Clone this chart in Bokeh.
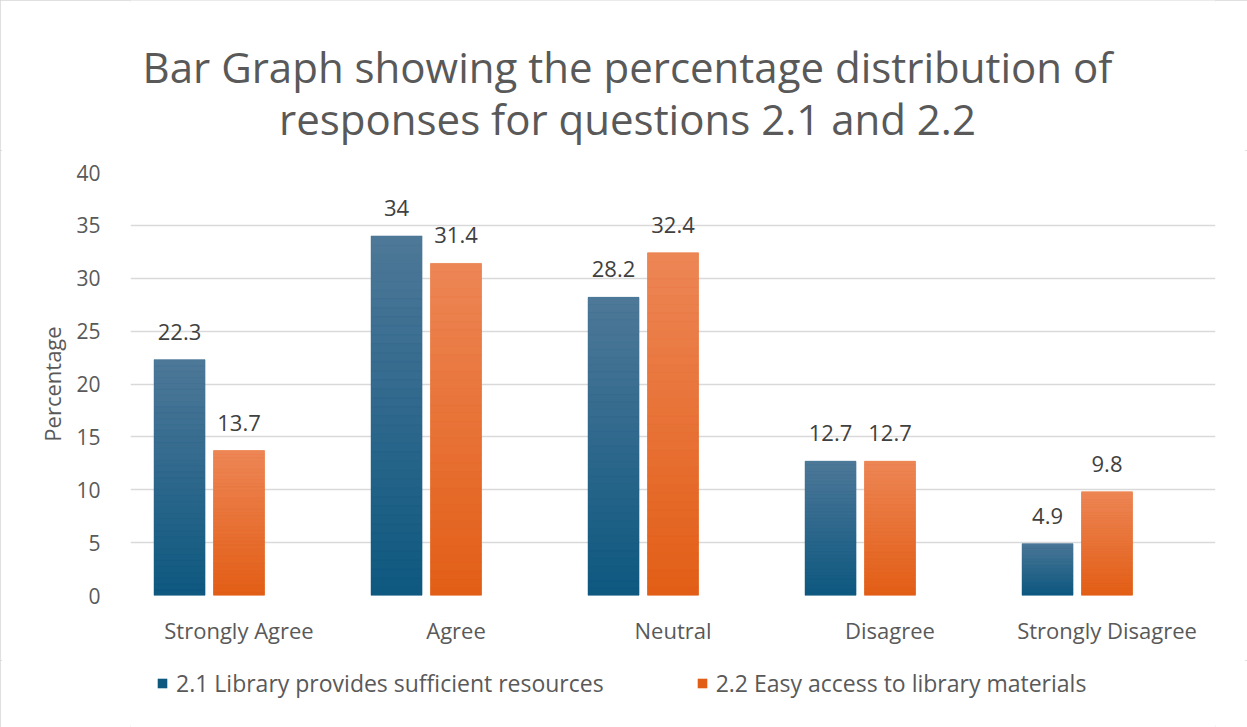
from bokeh.plotting import figure
from bokeh.layouts import column
from bokeh.models import (ColumnDataSource, FactorRange, Legend, LegendItem,
                          FixedTicker, LabelSet, Label, Range1d)
from bokeh.core.properties import value
from bokeh.transform import dodge
from bokeh.embed import file_html
from bokeh.resources import INLINE

# ---- data ----
categories = ["Strongly Agree", "Agree", "Neutral", "Disagree", "Strongly Disagree"]
lib_resources = [22.3, 34, 28.2, 12.7, 4.9]      # 2.1 Library provides sufficient resources
easy_access = [13.7, 31.4, 32.4, 12.7, 9.8]      # 2.2 Easy access to library materials
series_names = ["2.1 Library provides sufficient resources",
                "2.2 Easy access to library materials"]
y_ticks = [0, 5, 10, 15, 20, 25, 30, 35, 40]
title_lines = ["Bar Graph showing the percentage distribution of",
               "responses for questions 2.1 and 2.2"]

FONT = "Open Sans"
TXT = "#595959"
W = 1247
ML, MR = 130, 32          # left / right margins shared by all strips
TOP_H, LEG_H = 150, 67
MAIN_H = 727 - TOP_H - LEG_H

# gradient colours (bottom -> top)
blue_bottom, blue_top = (14, 88, 128), (78, 120, 152)
orange_bottom, orange_top = (226, 94, 22), (237, 134, 86)


def hexc(c):
    return "#%02x%02x%02x" % tuple(int(round(v)) for v in c)


def gradient_source(values, c0, c1, n=40):
    xs, bots, tops, cols = [], [], [], []
    for cat, v in zip(categories, values):
        for k in range(n):
            t = (k + 0.5) / n
            xs.append(cat)
            bots.append(v * k / n)
            tops.append(v * (k + 1) / n)
            cols.append(hexc([a + (b - a) * t for a, b in zip(c0, c1)]))
    return ColumnDataSource(dict(x=xs, bottom=bots, top=tops, color=cols))


def strip(height, x_range, y_range):
    f = figure(width=W, height=height, output_backend="svg", toolbar_location=None,
               x_range=x_range, y_range=y_range, x_axis_type=None, y_axis_type=None,
               min_border_left=ML, min_border_right=MR, min_border_top=0,
               min_border_bottom=0)
    f.grid.visible = False
    f.outline_line_color = None
    f.border_fill_color = "white"
    return f


# ---- title strip (data units == pixels) ----
p0 = strip(TOP_H, Range1d(ML, W - MR), Range1d(TOP_H, 0))
for txt, yb in zip(title_lines, [66, 118]):
    p0.add_layout(Label(x=627, y=yb, text=txt, text_align="center",
                        text_baseline="alphabetic", text_font=FONT,
                        text_font_size="42px", text_color=TXT))

# ---- main chart ----
p = figure(x_range=FactorRange(*categories, range_padding=0), y_range=(0, 40),
           width=W, height=MAIN_H, output_backend="svg", toolbar_location=None,
           min_border_left=ML, min_border_right=MR, min_border_top=22,
           min_border_bottom=65)
p.border_fill_color = "white"

BW = 0.235
OFF1, OFF2 = -0.274, 0.0

src = ColumnDataSource(dict(cat=categories, s1=lib_resources, s2=easy_access,
                            l1=[f"{v:g}" for v in lib_resources],
                            l2=[f"{v:g}" for v in easy_access]))

p.vbar(x=dodge("cat", OFF1, range=p.x_range), top="s1", width=BW, source=src,
       fill_color=hexc(blue_bottom), line_color=None)
p.vbar(x=dodge("cat", OFF2, range=p.x_range), top="s2", width=BW, source=src,
       fill_color=hexc(orange_bottom), line_color=None)

g1 = gradient_source(lib_resources, blue_bottom, blue_top)
g2 = gradient_source(easy_access, orange_bottom, orange_top)
p.vbar(x=dodge("x", OFF1, range=p.x_range), bottom="bottom", top="top", width=BW,
       source=g1, fill_color="color", line_color="color", line_width=0.5)
p.vbar(x=dodge("x", OFF2, range=p.x_range), bottom="bottom", top="top", width=BW,
       source=g2, fill_color="color", line_color="color", line_width=0.5)

for off, ycol, lcol in [(OFF1, "s1", "l1"), (OFF2, "s2", "l2")]:
    p.add_layout(LabelSet(x=dodge("cat", off, range=p.x_range), y=ycol, text=lcol,
                          source=src, text_align="center", text_baseline="alphabetic",
                          y_offset=20, text_font=value(FONT), text_font_size="22px",
                          text_color="#404040"))

p.yaxis.ticker = FixedTicker(ticks=y_ticks)
p.yaxis.axis_line_color = None
p.yaxis.major_tick_line_color = None
p.yaxis.minor_tick_line_color = None
p.yaxis.major_label_standoff = 24
p.yaxis.major_label_text_font = FONT
p.yaxis.major_label_text_font_size = "21px"
p.yaxis.major_label_text_color = TXT
p.yaxis.axis_label = "Percentage"
p.yaxis.axis_label_text_font = FONT
p.yaxis.axis_label_text_font_size = "22px"
p.yaxis.axis_label_text_font_style = "normal"
p.yaxis.axis_label_text_color = TXT
p.yaxis.axis_label_standoff = 6

p.xaxis.axis_line_color = None
p.xaxis.major_tick_line_color = None
p.xaxis.minor_tick_line_color = None
p.xaxis.major_label_standoff = 13
p.xaxis.major_label_text_font = FONT
p.xaxis.major_label_text_font_size = "22px"
p.xaxis.major_label_text_color = TXT

p.xgrid.grid_line_color = None
p.ygrid.grid_line_color = "#D9D9D9"
p.ygrid.grid_line_width = 1.5
p.outline_line_color = None

# ---- legend strip ----
p2 = strip(LEG_H, Range1d(0, 1), Range1d(0, 1))
lr1 = p2.vbar(x=[-5], top=[-5], width=0.1, fill_color=hexc(blue_bottom), line_color=None)
lr2 = p2.vbar(x=[-5], top=[-5], width=0.1, fill_color=hexc(orange_bottom), line_color=None)
legend = Legend(items=[LegendItem(label=series_names[0], renderers=[lr1]),
                       LegendItem(label=series_names[1], renderers=[lr2])],
                location=(26, 28), orientation="horizontal",
                border_line_color=None, background_fill_alpha=0,
                label_text_font=FONT, label_text_font_size="23px",
                label_text_color=TXT, glyph_width=12, glyph_height=12,
                label_standoff=8, label_height=26, spacing=92, padding=0, margin=0)
p2.add_layout(legend)

layout = column(p0, p, p2, spacing=0,
                styles={"outline": "2px solid #D6D6D6", "outline-offset": "-2px"})

open("out.html", "w").write(file_html(layout, INLINE))
